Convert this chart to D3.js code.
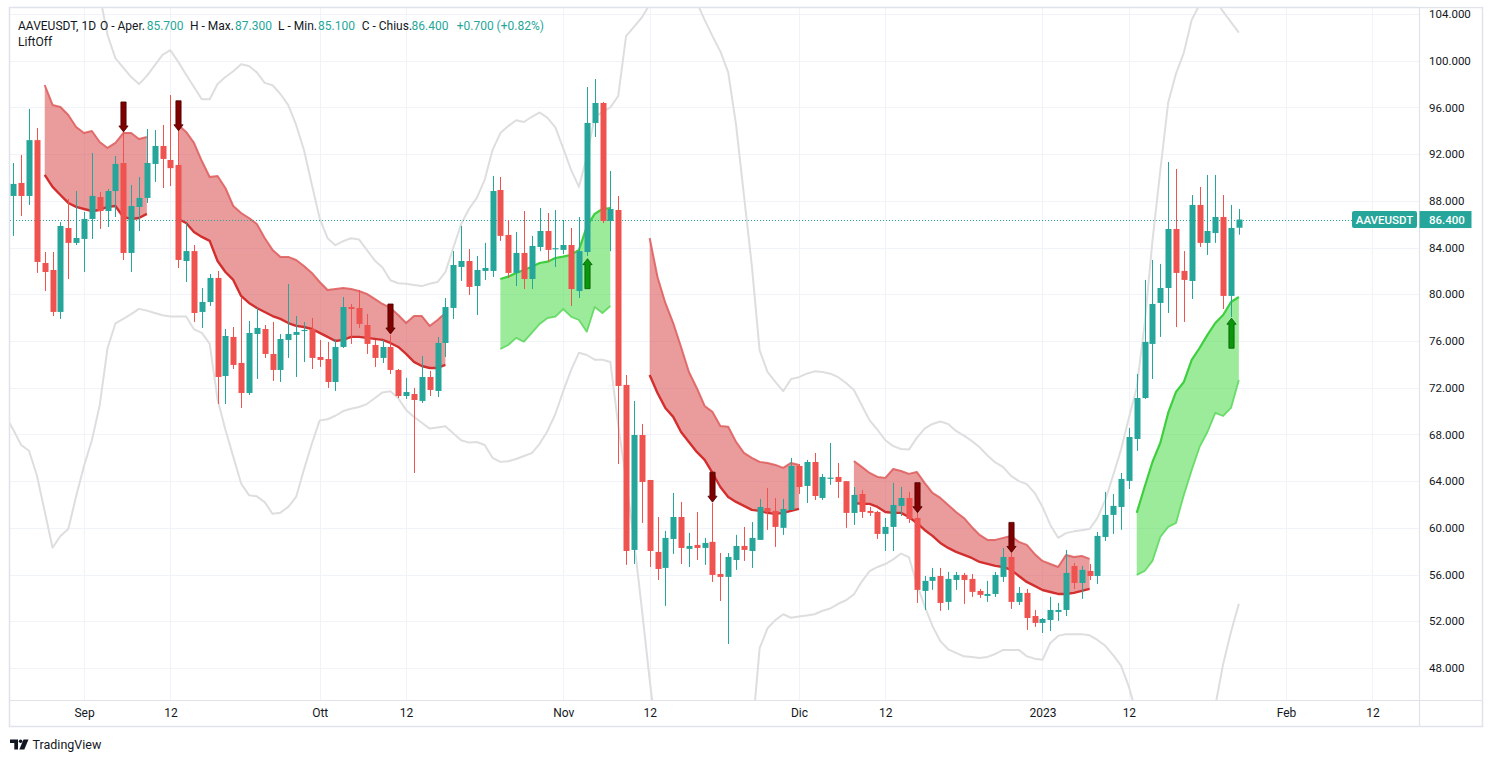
<!DOCTYPE html>
<html><head><meta charset="utf-8">
<script src="https://cdn.jsdelivr.net/npm/d3@7"></script>
<style>
body{margin:0;background:#fff;}
svg{display:block;font-family:Roboto,"Noto Sans",sans-serif;}
</style>
</head><body>
<svg id="c" width="1493" height="762"></svg>
<script>
// ---------------- DATA ----------------
const candleStart = "2022-08-23";
const opens = [
 88.42,89.53,88.42,93.2,82.68,82.08,78.49,85.68,84.4,
 84.74,86.45,88.33,87.13,88.84,91.24,83.54,87.48,88.25,91.16,92.7,91.5,91.07,82.85,83.7,78.49,79.34,81.4,73.0,76.35,74.12,71.55,76.6,77.03,74.89,73.52,76.09,76.52,76.9,77.03,
 74.63,74.46,72.49,75.49,78.91,78.83,77.37,75.66,74.55,75.49,73.52,71.29,71.46,70.87,72.92,71.72,75.83,78.83,82.34,82.85,80.71,82.0,82.0,88.93,85.08,81.83,83.54,81.31,84.05,85.42,83.85,
 83.8,84.22,80.28,83.62,94.67,96.38,86.28,87.22,72.24,58.11,67.95,64.1,57.94,56.57,59.05,60.93,58.2,58.54,58.28,58.8,56.05,55.8,57.25,58.45,58.02,58.97,61.7,61.45,60.0,61.53,
 65.3,63.59,65.64,62.56,64.2,64.36,64.0,61.28,62.9,61.45,61.36,59.48,60.08,61.88,62.56,60.85,54.6,55.46,55.88,53.66,55.54,55.97,55.63,54.6,54.17,54.34,55.8,57.51,53.66,54.43,52.45,
 51.86,52.11,52.8,52.97,56.74,55.28,56.31,55.88,59.22,61.11,61.79,64.02,67.61,71.12,75.75,79.26,80.54,85.59,82.0,81.14,87.65,84.4,85.25,86.62,79.86,85.7
];
const highs = [
 91.24,91.93,95.87,94.24,83.62,83.62,86.19,88.16,88.84,
 87.05,92.1,88.76,89.02,91.84,93.9,89.36,90.04,94.15,94.07,94.5,97.06,94.07,86.1,84.22,80.54,81.74,82.0,77.03,77.2,79.77,77.72,78.83,77.37,77.63,76.6,80.88,78.14,77.63,77.97,
 76.09,75.92,76.17,79.77,79.17,80.37,78.31,76.09,76.09,76.52,73.6,72.84,71.98,74.72,73.44,76.35,79.68,83.7,85.85,83.88,83.28,84.4,90.13,90.04,86.36,85.34,87.13,85.0,87.39,86.96,87.22,
 86.36,85.68,86.62,97.75,98.43,96.47,90.56,88.42,73.09,70.87,68.9,64.1,60.93,59.74,62.99,62.22,59.57,61.36,59.14,62.13,57.85,57.85,59.4,60.08,60.5,62.48,63.42,62.56,62.48,65.99,
 65.47,65.82,66.41,64.62,67.27,65.56,64.0,63.5,63.25,61.79,61.45,60.85,63.85,63.5,63.08,61.28,55.88,56.57,56.57,56.23,56.23,56.14,56.05,54.77,55.46,56.23,58.28,57.85,54.94,54.77,52.97,
 52.28,54.09,53.57,58.11,57.0,56.74,56.91,59.65,63.08,62.9,64.7,68.56,73.18,81.23,82.94,82.6,91.33,90.73,83.7,88.5,89.19,90.22,90.22,88.5,87.65,87.3
];
const lows = [
 85.0,86.7,87.65,81.83,80.28,78.14,77.89,81.31,84.22,
 81.91,84.74,85.6,85.76,86.62,82.94,81.91,85.42,87.82,89.62,89.1,89.27,82.25,81.05,77.63,77.12,79.0,70.61,70.61,73.6,70.27,71.38,72.75,74.55,72.58,72.49,74.55,72.92,74.2,73.6,
 73.78,71.98,71.72,75.4,75.75,77.12,74.89,73.78,74.12,73.18,71.12,71.04,64.7,70.7,71.29,71.2,74.63,77.89,81.14,79.94,78.23,81.23,81.48,84.57,81.4,80.71,80.45,80.45,83.7,82.77,82.34,
 83.45,79.0,79.68,83.28,93.47,86.1,83.7,65.47,56.83,56.91,60.42,56.65,55.54,53.32,57.77,56.91,56.65,57.25,56.83,55.37,53.74,50.06,56.4,57.17,56.57,58.97,59.83,58.37,59.4,61.53,
 62.9,62.13,62.39,62.39,63.68,62.56,60.0,60.25,60.85,61.02,59.05,58.02,58.02,61.02,60.42,53.57,52.97,54.69,52.89,52.97,54.69,53.49,54.09,54.0,53.66,54.09,55.37,53.06,53.4,51.26,51.52,
 51.0,51.17,52.03,52.45,54.77,53.92,55.54,55.2,58.88,59.48,59.83,63.33,66.59,71.04,72.75,76.35,78.4,77.2,77.63,79.6,84.05,83.37,84.4,78.74,78.06,85.1
];
const closes = [
 89.45,88.42,93.2,82.77,81.91,78.49,85.85,84.4,84.82,
 86.45,88.42,87.13,88.84,91.16,83.54,87.56,88.25,91.24,92.7,91.59,90.8,82.94,83.7,78.4,79.34,81.4,72.92,76.43,73.95,71.55,76.69,77.12,74.89,73.52,76.17,76.6,76.77,76.95,74.55,
 74.38,72.49,75.49,78.91,78.74,77.46,75.75,74.55,75.49,73.52,71.29,71.63,70.95,72.92,71.81,75.83,78.91,82.51,82.85,80.63,82.08,82.25,88.84,85.0,81.83,83.54,81.31,84.14,85.42,83.8,83.95,
 84.22,80.45,83.7,94.67,96.38,86.28,87.3,72.15,58.02,67.95,63.93,58.02,56.48,59.14,60.93,58.28,58.45,58.28,58.71,55.97,55.8,57.51,58.45,58.11,59.14,61.79,61.36,60.08,61.62,65.3,
 63.5,65.64,62.73,64.36,64.3,63.93,61.28,62.82,61.36,61.28,59.48,60.08,61.96,62.56,60.76,54.69,55.46,55.8,53.57,55.63,55.97,55.54,54.52,54.26,54.34,55.97,57.51,53.66,54.43,52.28,51.86,
 52.2,52.97,52.97,56.14,55.28,56.4,55.88,59.31,61.11,61.88,64.19,67.78,71.12,75.92,79.17,80.54,85.59,81.83,81.23,87.65,84.4,85.42,86.62,79.86,85.68,86.4
];

// grey envelope lines (daily values)
const upperEnvStart = "2022-09-02";
const upperEnv = [
 108,105.6,102.2,100.2,99.4,98.6,98.0,98.7,99.6,100.5,100.9,99.9,98.8,97.75,96.7,96.7,98.0,98.6,99.1,99.7,99.55,99.0,98.1,97.9,97.15,96.2,94.5,92.35,89.4,
 86.5,84.8,84.2,84.55,84.8,84.7,83.8,82.9,82.3,81.2,80.95,80.9,80.8,80.7,80.9,81.05,81.9,83.96,86.0,87.3,88.25,89.8,92.35,93.8,94.4,94.9,94.75,95.2,95.57,95.1,94.3,
 92.5,90.65,89.2,91.75,95.2,95.6,96.0,96.98,102.1,102.9,103.7,104.8,106,107,107.5,107,106,105.0,103.5,102.1,100.8,99.0,94.5,88.5,82.5,75.2,73.35,72.5,71.7,72.75,
 72.9,73.2,73.4,73.35,73.2,72.9,72.4,71.8,70.5,69.2,68.4,67.5,67.0,66.75,66.7,67.7,68.5,68.9,69.1,68.9,68.3,67.9,67.45,66.9,66.2,65.6,65.2,64.45,64.0,63.75,63.0,
 61.8,60.25,59.15,59.55,59.7,59.8,59.9,60.85,62.4,64.5,66.7,69.4,72.0,77.4,84.55,90.6,96.4,98.9,100.7,103.5,104.8,105.8,105.2,104.2,103.3,102.4
];
const lowerEnvStart = "2022-08-22";
const lowerEnv = [
 69.6,68.4,67.1,66.6,64.5,61.4,58.3,59.3,59.9,62.7,
 65.3,67.5,70.5,75.4,77.5,77.9,78.3,78.75,78.6,78.4,78.2,78.1,78.1,78.1,77.0,76.7,75.75,71.0,68.4,66.1,63.8,62.8,62.7,62.2,61.2,61.3,61.8,62.65,65.0,67.2,
 69.2,69.3,69.6,70.0,70.2,70.35,70.6,71.1,71.6,71.7,71.1,70.1,69.5,69.0,68.5,68.6,68.7,68.1,67.5,67.3,67.35,67.1,66.0,65.65,65.7,65.9,66.15,66.4,67.2,68.3,69.75,
 71.7,73.5,75.0,74.8,74.4,74.4,74.2,68.8,64.1,59.0,53.1,47.0,41.4,38,36,35,35,35,35,35,35,36,37,39,42,49.7,51.4,52.1,52.6,52.3,
 52.4,52.5,52.6,52.9,53.1,53.5,53.8,54.3,55.4,56.3,56.65,56.9,57.3,57.8,57.5,55.2,53.3,51.6,50.3,49.6,49.3,49.0,48.95,48.85,48.95,49.2,49.55,49.55,49.55,49.0,48.8,
 48.7,50.15,50.75,50.9,50.9,50.9,50.8,50.4,49.9,49.1,48.2,46.4,44.0,40,37,35,35,35,36,37,38.5,40.1,44.75,48.35,51.1,53.5
];

// LiftOff bands
const bandStarts = ["2022-08-27","2022-09-13","2022-10-24","2022-11-12","2022-12-08","2023-01-13"];
const bandKinds  = ["bear","bear","bull","bear","bear","bull"];
const bandUpper = [
 [97.92,96.21,96.04,95.35,94.33,93.81,93.98,93.04,92.53,92.96,93.81,93.81,93.3,93.47],
 [94.5,93.9,92.96,91.41,90.04,90.13,89.1,87.56,86.96,86.53,86.02,84.82,83.8,83.2,83.2,82.94,82.42,81.83,81.05,80.37,80.45,80.54,80.45,80.28,80.03,79.6,79.17,78.83,78.23,77.54,78.14,78.14,77.29,77.8,78.4],
 [81.31,81.51,81.83,82.08,82.36,82.68,82.79,83.11,83.22,83.37,83.8,85.79,86.88,87.3,87.39],
 [84.82,81.48,79.26,77.54,75.49,73.35,71.98,70.44,69.93,68.73,68.65,67.36,66.42,66.0,65.65,65.56,65.39,65.14,65.56,65.39],
 [65.73,65.22,64.7,64.36,64.28,65.04,64.87,64.62,64.79,63.85,62.99,62.56,61.96,61.36,60.85,60.08,59.4,58.97,58.97,59.14,59.31,58.8,58.54,57.77,57.17,56.91,56.65,57.68,57.51,57.6,57.34],
 [61.28,63.5,65.64,67.27,69.84,71.64,72.49,74.38,75.4,76.52,77.54,78.23,79.34,79.77]
];
const bandLower = [
 [90.22,89.19,88.5,87.82,87.48,87.3,87.13,87.22,87.48,87.56,86.62,86.45,86.53,86.88],
 [86.45,86.1,85.34,84.91,84.57,82.85,81.91,81.23,79.86,79.26,78.83,78.48,78.14,77.89,77.54,77.29,77.2,77.03,76.69,76.35,76.0,76.1,76.35,76.35,76.27,76.18,76.1,75.83,75.49,74.9,74.21,73.86,73.69,73.69,73.95],
 [75.32,75.66,76.27,75.94,76.69,77.46,77.97,78.08,78.74,78.08,77.8,76.8,78.91,78.4,79.0],
 [73.09,71.55,70.27,69.5,68.21,67.36,66.5,65.82,64.7,63.5,62.65,62.22,61.88,61.54,61.45,61.28,61.2,61.28,61.45,61.62],
 [62.13,62.05,62.05,61.79,61.36,61.28,61.28,60.93,60.42,59.82,59.31,58.71,58.28,57.94,57.68,57.42,57.08,56.91,56.74,56.65,56.4,55.88,55.37,55.03,54.68,54.51,54.34,54.34,54.43,54.6,54.77],
 [55.97,56.31,57.17,59.22,60.08,60.42,62.82,64.96,66.93,68.21,69.84,69.58,70.27,72.67]
];

// signal arrows (tip price)
const sellDates  = ["2022-09-06","2022-09-13","2022-10-10","2022-11-20","2022-12-16","2022-12-28"];
const sellPrices = [93.9,94.0,76.6,62.2,61.3,57.9];
const buyDates   = ["2022-11-04","2023-01-25"];
const buyPrices  = [83.05,77.95];

// axes
const xTickDates  = ["2022-09-01","2022-09-12","2022-10-01","2022-10-12","2022-11-01","2022-11-12","2022-12-01","2022-12-12","2023-01-01","2023-01-12","2023-02-01","2023-02-12"];
const xTickLabels = ["Sep","12","Ott","12","Nov","12","Dic","12","2023","12","Feb","12"];
const yTicks = [48,52,56,60,64,68,72,76,80,84,88,92,96,100,104];
const lastPrice = 86.4;
const symbol = "AAVEUSDT";
const headerParts = [
 {t:"AAVEUSDT, 1D", v:false},{t:"O - Aper.", v:false},{t:"85.700", v:true},{t:"H - Max.", v:false},{t:"87.300", v:true},
 {t:"L - Min.", v:false},{t:"85.100", v:true},{t:"C - Chius.", v:false},{t:"86.400", v:true},{t:"+0.700 (+0.82%)", v:true}
];
const headerX = [18,100,146.7,190,235,278,318,361.7,411.5,456.7];

// ---------------- DRAW ----------------
const parse = d3.timeParse("%Y-%m-%d");
const dayAt = (s,i) => d3.timeDay.offset(parse(s), i);
const UP="#26a69a", DOWN="#ef5350", TXT="#131722", GRID="#f0f3fa", BORDER="#e0e3eb";
const P = {l:10, r:1419, t:8, b:700};

const x = d3.scaleTime().domain([parse("2022-09-01"), parse("2023-02-01")]).range([84,1286]);
const y = d3.scaleLinear().domain([48,104]).range([668,14]);

const svg = d3.select("#c");
const defs = svg.append("defs");
defs.append("clipPath").attr("id","plotclip").append("rect")
  .attr("x",P.l).attr("y",P.t).attr("width",P.r-P.l).attr("height",P.b-P.t);
defs.append("clipPath").attr("id","axclip").append("rect")
  .attr("x",P.r).attr("y",9).attr("width",70).attr("height",P.b-9);

// grid
const grid = svg.append("g").attr("clip-path","url(#plotclip)");
grid.selectAll("line.h").data(yTicks).join("line")
  .attr("x1",P.l).attr("x2",P.r).attr("y1",d=>Math.round(y(d))+0.5).attr("y2",d=>Math.round(y(d))+0.5)
  .attr("stroke",GRID).attr("stroke-width",1);
grid.selectAll("line.v").data(xTickDates).join("line")
  .attr("y1",P.t).attr("y2",P.b).attr("x1",d=>Math.round(x(parse(d)))+0.5).attr("x2",d=>Math.round(x(parse(d)))+0.5)
  .attr("stroke",GRID).attr("stroke-width",1);

const plot = svg.append("g").attr("clip-path","url(#plotclip)");

// envelope lines
const envLine = d3.line().x(d=>x(d[0])).y(d=>y(d[1]));
[[upperEnvStart,upperEnv],[lowerEnvStart,lowerEnv]].forEach(([s,arr])=>{
  plot.append("path").datum(arr.map((v,i)=>[dayAt(s,i),v]))
    .attr("d",envLine).attr("fill","none").attr("stroke","#dedede").attr("stroke-width",2)
    .attr("stroke-linejoin","round");
});

// bands
const area = d3.area().x(d=>x(d.date)).y0(d=>y(d.lo)).y1(d=>y(d.hi));
const lineHi = d3.line().x(d=>x(d.date)).y(d=>y(d.hi));
const lineLo = d3.line().x(d=>x(d.date)).y(d=>y(d.lo));
bandStarts.forEach((s,b)=>{
  const pts = bandUpper[b].map((v,i)=>({date:dayAt(s,i), hi:v, lo:bandLower[b][i]}));
  const bear = bandKinds[b]==="bear";
  plot.append("path").datum(pts).attr("d",area)
    .attr("fill", bear ? "#dc5a5a" : "#52dc52").attr("fill-opacity", bear?0.6:0.58);
  plot.append("path").datum(pts).attr("d",lineHi).attr("fill","none")
    .attr("stroke", bear ? "#de5a5a" : "#3ecf3e").attr("stroke-width", bear?2:2.2)
    .attr("stroke-opacity", bear?0.85:1).attr("stroke-linejoin","round");
  plot.append("path").datum(pts).attr("d",lineLo).attr("fill","none")
    .attr("stroke", bear ? "#d32f2f" : "#5fd85f").attr("stroke-width", bear?2.4:1.8)
    .attr("stroke-opacity", bear?1:0.9).attr("stroke-linejoin","round");
});

// price line
plot.append("line").attr("x1",P.l).attr("x2",1352).attr("y1",Math.round(y(lastPrice))+0.5).attr("y2",Math.round(y(lastPrice))+0.5)
  .attr("stroke",UP).attr("stroke-width",1).attr("stroke-dasharray","1,2");

// candles
const candles = opens.map((o,i)=>({date:dayAt(candleStart,i), o, h:highs[i], l:lows[i], c:closes[i]}));
const cg = plot.append("g");
candles.forEach(d=>{
  const cx = Math.round(x(d.date));
  const col = d.c >= d.o ? UP : DOWN;
  cg.append("rect").attr("x",cx).attr("width",1)
    .attr("y",y(d.h)).attr("height",Math.max(1,y(d.l)-y(d.h))).attr("fill",col);
  const top = y(Math.max(d.o,d.c)), bot = y(Math.min(d.o,d.c));
  cg.append("rect").attr("x",cx-2.5).attr("width",6)
    .attr("y",top).attr("height",Math.max(1.2,bot-top)).attr("fill",col);
});

// arrows
function arrowPath(cx, tipY, dir){ // dir=+1 pointing down, -1 pointing up
  const L=30, hh=6, sw=2.6, hw=4.6;
  const base = tipY - dir*hh, tail = tipY - dir*L;
  return `M${cx-sw},${tail}L${cx+sw},${tail}L${cx+sw},${base}L${cx+hw},${base}L${cx},${tipY}L${cx-hw},${base}L${cx-sw},${base}Z`;
}
sellDates.forEach((s,i)=>{
  const cx = Math.round(x(parse(s)))+0.5;
  plot.append("path").attr("d",arrowPath(cx,y(sellPrices[i]),1))
    .attr("fill","#800000").attr("stroke","#4a0000").attr("stroke-width",0.8);
});
buyDates.forEach((s,i)=>{
  const cx = Math.round(x(parse(s)))+0.5;
  plot.append("path").attr("d",arrowPath(cx,y(buyPrices[i]),-1))
    .attr("fill","#0b960b").attr("stroke","#055a05").attr("stroke-width",0.8);
});

// frame
svg.append("rect").attr("x",9.5).attr("y",7.5).attr("width",1473).attr("height",719)
  .attr("fill","none").attr("stroke",BORDER).attr("stroke-width",1.5);
svg.append("line").attr("x1",P.r+0.5).attr("x2",P.r+0.5).attr("y1",7.5).attr("y2",726.5).attr("stroke",BORDER).attr("stroke-width",1.2);
svg.append("line").attr("x1",9.5).attr("x2",1482.5).attr("y1",P.b+0.5).attr("y2",P.b+0.5).attr("stroke",BORDER).attr("stroke-width",1.2);

// y axis
const yAxis = d3.axisRight(y).tickValues(yTicks).tickFormat(d3.format(".3f")).tickSize(0).tickPadding(10);
const yg = svg.append("g").attr("transform",`translate(${P.r},0)`).attr("clip-path","url(#axclip)").call(yAxis);
yg.select(".domain").remove();
yg.selectAll("text").attr("font-size","11.5px").attr("fill",TXT).attr("font-family","Roboto, 'Noto Sans', sans-serif");
yg.attr("clip-path",null);
yg.selectAll(".tick").filter(d=>d===104).select("text").attr("clip-path",null);

// x axis
const xAxis = d3.axisBottom(x).tickValues(xTickDates.map(parse)).tickFormat((d,i)=>xTickLabels[i]).tickSize(0).tickPadding(8);
const xg = svg.append("g").attr("transform",`translate(0,${P.b})`).call(xAxis);
xg.select(".domain").remove();
xg.selectAll("text").attr("font-size","12px").attr("fill",TXT).attr("font-family","Roboto, 'Noto Sans', sans-serif");

// last price labels
const ly = y(lastPrice);
svg.append("rect").attr("x",1352).attr("y",ly-8.5).attr("width",65).attr("height",17).attr("rx",2).attr("fill",UP);
svg.append("text").attr("x",1384.5).attr("y",ly+4).attr("text-anchor","middle").attr("fill","#fff")
  .attr("font-size","11.5px").attr("font-weight",500).text(symbol);
svg.append("rect").attr("x",P.r+0.5).attr("y",ly-8.5).attr("width",52).attr("height",17).attr("fill",UP);
svg.append("text").attr("x",1429).attr("y",ly+4).attr("fill","#fff")
  .attr("font-size","11.5px").attr("font-weight",500).text(d3.format(".3f")(lastPrice));

// clip top label
svg.append("rect").attr("x",1420.5).attr("y",0).attr("width",61).attr("height",6.8).attr("fill","#fff");

// header
const hg = svg.append("g").attr("font-size","12px");
headerParts.forEach((p,i)=>{
  hg.append("text").attr("x",headerX[i]).attr("y",29.5).attr("fill",p.v?UP:TXT).text(p.t);
});
hg.append("text").attr("x",18).attr("y",46).attr("fill",TXT).text("LiftOff");

// TradingView logo
const lg = svg.append("g").attr("fill",TXT);
lg.append("path").attr("d","M10,739.5H18V749.5H14.3V743H10Z");
lg.append("circle").attr("cx",20.6).attr("cy",741.3).attr("r",1.8);
lg.append("path").attr("d","M23.5,739.5H28.5L24.3,749.5H19.3Z");
svg.append("text").attr("x",32.5).attr("y",748.5).attr("font-size","12.5px").attr("fill",TXT).text("TradingView");
</script>
</body></html>
